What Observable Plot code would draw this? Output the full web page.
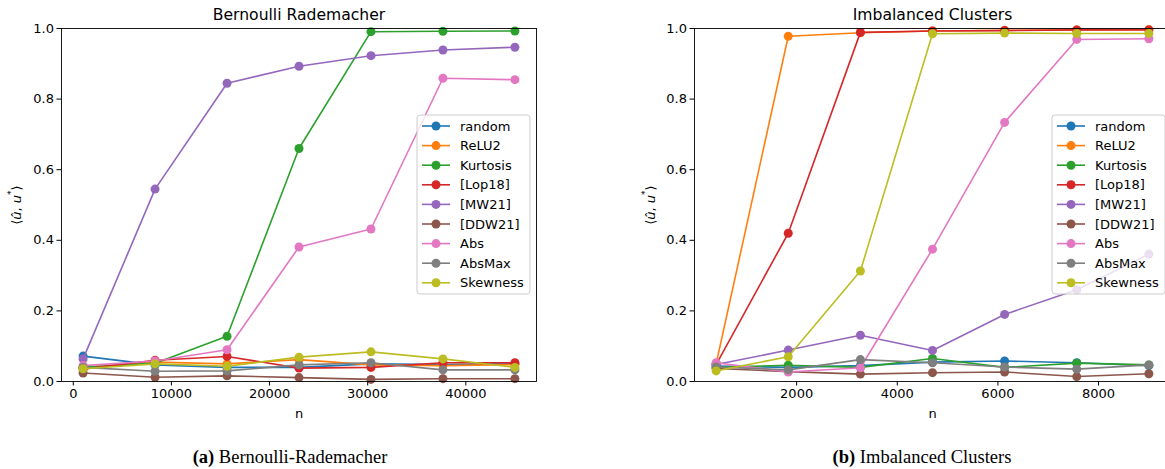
<!DOCTYPE html>
<html><head><meta charset="utf-8">
<script src="https://cdn.jsdelivr.net/npm/d3@7"></script>
<script src="https://cdn.jsdelivr.net/npm/@observablehq/plot@0.6"></script>
<style>
html,body{margin:0;padding:0;background:#fff;width:1165px;height:469px;overflow:hidden;position:relative;}
.panel{position:absolute;top:0;}
.panel svg{max-width:none !important;}
.cap{position:absolute;top:447px;font-family:"Liberation Serif","Times New Roman",serif;font-size:18.5px;color:#000;transform:translateX(-50%);white-space:nowrap;}
</style></head><body>
<div id="left" class="panel" style="left:0;width:560px"></div>
<div id="right" class="panel" style="left:640px;width:540px"></div>
<div class="cap" style="left:290px"><b>(a)</b> Bernoulli-Rademacher</div>
<div class="cap" style="left:922px"><b>(b)</b> Imbalanced Clusters</div>
<script>
const series = ["random","ReLU2","Kurtosis","[Lop18]","[MW21]","[DDW21]","Abs","AbsMax","Skewness"];
const colors = ["#1f77b4","#ff7f0e","#2ca02c","#d62728","#9467bd","#8c564b","#e377c2","#7f7f7f","#bcbd22"];
const yTicks = [0, 0.2, 0.4, 0.6, 0.8, 1.0];

// Panel (a) Bernoulli Rademacher
const nBR = [1000, 8333, 15667, 23000, 30333, 37667, 45000];
const xTicksBR = [0, 10000, 20000, 30000, 40000];
const brRandom   = [0.072, 0.047, 0.040, 0.040, 0.050, 0.048, 0.050];
const brReLU2    = [0.040, 0.055, 0.050, 0.062, 0.047, 0.045, 0.048];
const brKurtosis = [0.040, 0.052, 0.128, 0.660, 0.991, 0.992, 0.993];
const brLop18    = [0.035, 0.060, 0.071, 0.038, 0.040, 0.053, 0.053];
const brMW21     = [0.064, 0.545, 0.845, 0.893, 0.923, 0.939, 0.947];
const brDDW21    = [0.024, 0.012, 0.016, 0.011, 0.006, 0.008, 0.008];
const brAbs      = [0.045, 0.058, 0.090, 0.381, 0.432, 0.859, 0.855];
const brAbsMax   = [0.040, 0.029, 0.030, 0.047, 0.053, 0.033, 0.033];
const brSkewness = [0.036, 0.050, 0.043, 0.069, 0.084, 0.064, 0.040];

// Panel (b) Imbalanced Clusters
const nIC = [400, 1833, 3267, 4700, 6133, 7567, 9000];
const xTicksIC = [2000, 4000, 6000, 8000];
const icRandom   = [0.044, 0.040, 0.045, 0.055, 0.058, 0.053, 0.045];
const icReLU2    = [0.050, 0.978, 0.988, 0.993, 0.995, 0.996, 0.997];
const icKurtosis = [0.040, 0.046, 0.040, 0.065, 0.040, 0.052, 0.047];
const icLop18    = [0.048, 0.420, 0.989, 0.993, 0.994, 0.996, 0.996];
const icMW21     = [0.048, 0.089, 0.131, 0.088, 0.190, 0.260, 0.361];
const icDDW21    = [0.037, 0.028, 0.021, 0.025, 0.027, 0.014, 0.022];
const icAbs      = [0.053, 0.027, 0.039, 0.375, 0.734, 0.969, 0.971];
const icAbsMax   = [0.041, 0.033, 0.062, 0.053, 0.041, 0.035, 0.047];
const icSkewness = [0.030, 0.070, 0.313, 0.985, 0.987, 0.986, 0.986];

const FONT = "DejaVu Sans, sans-serif";

function makePanel(el, cfg) {
  const rows = [];
  series.forEach((s, i) => cfg.values[i].forEach((v, j) => rows.push({series: s, n: cfg.ns[j], v})));
  const marks = [];
  series.forEach(s => {
    const d = rows.filter(r => r.series === s);
    marks.push(Plot.line(d, {x: "n", y: "v", stroke: "series", strokeWidth: 1.6}));
    marks.push(Plot.dot(d, {x: "n", y: "v", fill: "series", r: 4.5}));
  });
  const plot = Plot.plot({
    width: cfg.width, height: 430,
    marginLeft: cfg.marginLeft, marginRight: cfg.marginRight, marginTop: 28, marginBottom: 49,
    style: {fontFamily: FONT, fontSize: "13px", background: "transparent", color: "#000", overflow: "visible"},
    x: {domain: cfg.xDomain, label: null},
    y: {domain: [0, 1], label: null},
    color: {domain: series, range: colors},
    marks: [
      ...marks,
      Plot.frame({stroke: "#000", strokeWidth: 0.9}),
      Plot.axisX({ticks: cfg.xTicks, tickFormat: "d", tickSize: 4.5, tickPadding: 3, label: null, fontSize: 13}),
      Plot.axisY({ticks: yTicks, tickFormat: ".1f", tickSize: 4.5, tickPadding: 3, label: null, fontSize: 13}),
      Plot.text([cfg.title], {frameAnchor: "top", lineAnchor: "middle", dy: -14, fontSize: 15.6, text: d => d, fill: "#000"}),
      Plot.text(["n"], {frameAnchor: "bottom", lineAnchor: "middle", dy: 32, fontSize: 13, text: d => d, fill: "#000"})
    ]
  });
  const svg = d3.select(plot);
  // y label
  const yl = svg.append("text")
    .attr("transform", `translate(${cfg.ylabelX},205) rotate(-90)`)
    .attr("text-anchor", "middle").attr("dominant-baseline", "central")
    .attr("font-family", FONT).attr("font-size", 13).attr("fill", "#000");
  yl.append("tspan").text("⟨");
  yl.append("tspan").attr("font-style", "italic").text("û");
  yl.append("tspan").text(", ");
  yl.append("tspan").attr("font-style", "italic").text("u");
  yl.append("tspan").attr("font-size", 9).attr("dy", -5).text("*");
  yl.append("tspan").attr("dy", 5).text("⟩");
  // legend
  const lx = cfg.legendX, ly = 115;
  const lg = svg.append("g");
  lg.append("rect").attr("x", lx).attr("y", ly).attr("width", cfg.legendW).attr("height", 179)
    .attr("rx", 3).attr("fill", "#fff").attr("fill-opacity", 0.8).attr("stroke", "#ccc").attr("stroke-width", 1);
  series.forEach((s, i) => {
    const yy = ly + 11 + i * 19.6;
    const c = colors[i];
    lg.append("line").attr("x1", lx + 5).attr("x2", lx + 33).attr("y1", yy).attr("y2", yy)
      .attr("stroke", c).attr("stroke-width", 1.6);
    lg.append("circle").attr("cx", lx + 19).attr("cy", yy).attr("r", 4.5).attr("fill", c);
    lg.append("text").attr("x", lx + 43).attr("y", yy).attr("dominant-baseline", "central")
      .attr("text-anchor", "start")
      .attr("font-family", FONT).attr("font-size", 13).attr("fill", "#000").text(s);
  });
  document.getElementById(el).appendChild(plot);
}

makePanel("left", {
  ns: nBR, values: [brRandom, brReLU2, brKurtosis, brLop18, brMW21, brDDW21, brAbs, brAbsMax, brSkewness],
  width: 560, marginLeft: 61, marginRight: 24, xDomain: [-1200, 47200], xTicks: xTicksBR,
  title: "Bernoulli Rademacher", ylabelX: 16, legendX: 417, legendW: 113
});
makePanel("right", {
  ns: nIC, values: [icRandom, icReLU2, icKurtosis, icLop18, icMW21, icDDW21, icAbs, icAbsMax, icSkewness],
  width: 540, marginLeft: 54, marginRight: 10, xDomain: [-30, 9430], xTicks: xTicksIC,
  title: "Imbalanced Clusters", ylabelX: 10, legendX: 412, legendW: 113
});
</script>
</body></html>
